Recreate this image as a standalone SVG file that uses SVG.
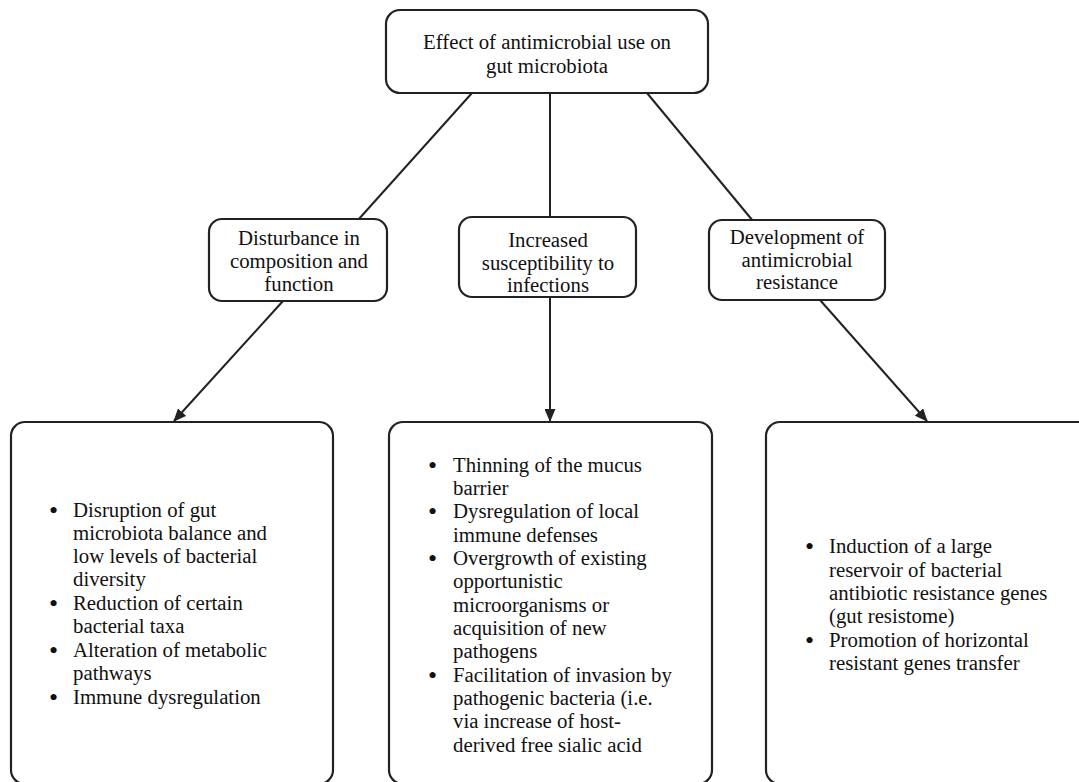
<svg xmlns="http://www.w3.org/2000/svg" width="1079" height="782" viewBox="0 0 1079 782">
<style>
.box{fill:#fff;stroke:#222;stroke-width:2.2}
.t{font-family:"Liberation Serif","Times New Roman",serif;font-size:20.8px;fill:#111}
.b{font-family:"Liberation Serif","Times New Roman",serif;font-size:26px;fill:#111}
.c{text-anchor:middle}
.con{stroke:#222;stroke-width:2;fill:none}
</style>
<defs>
<marker id="ah" markerWidth="13" markerHeight="11" refX="12" refY="5.5" orient="auto" markerUnits="userSpaceOnUse">
<path d="M0,0 L13,5.5 L0,11 Z" fill="#222"/>
</marker>
</defs>
<rect width="1079" height="782" fill="#fff"/>
<g id="connectors">
<line class="con" x1="472" y1="93" x2="358" y2="220"/>
<line class="con" x1="550" y1="93" x2="550" y2="217"/>
<line class="con" x1="647" y1="93" x2="753" y2="221"/>
<line class="con" x1="283" y1="301" x2="174" y2="421" marker-end="url(#ah)"/>
<line class="con" x1="550" y1="297" x2="550" y2="421" marker-end="url(#ah)"/>
<line class="con" x1="820" y1="300" x2="927" y2="421" marker-end="url(#ah)"/>
</g>
<g id="top">
<rect class="box" x="386" y="10" width="322" height="83" rx="14"/>
<text class="t c" x="547" y="49">Effect of antimicrobial use on</text>
<text class="t c" x="547" y="73">gut microbiota</text>
</g>
<g id="disturbance">
<rect class="box" x="209" y="219" width="178" height="82" rx="13"/>
<text class="t c" x="299" y="245">Disturbance in</text>
<text class="t c" x="299" y="268">composition and</text>
<text class="t c" x="299" y="291">function</text>
</g>
<g id="susceptibility">
<rect class="box" x="459" y="217" width="177" height="80" rx="13"/>
<text class="t c" x="548" y="247">Increased</text>
<text class="t c" x="548" y="270">susceptibility to</text>
<text class="t c" x="548" y="292">infections</text>
</g>
<g id="resistance">
<rect class="box" x="709" y="220" width="176" height="80" rx="13"/>
<text class="t c" x="797" y="244">Development of</text>
<text class="t c" x="797" y="267">antimicrobial</text>
<text class="t c" x="797" y="289">resistance</text>
</g>
<g id="list1">
<rect class="box" x="11" y="422" width="322" height="362" rx="14"/>
<g class="b">
<text x="49" y="519">•</text>
<text x="49" y="612">•</text>
<text x="49" y="659">•</text>
<text x="49" y="706">•</text>
</g>
<g class="t">
<text x="73" y="517">Disruption of gut</text>
<text x="73" y="540">microbiota balance and</text>
<text x="73" y="563">low levels of bacterial</text>
<text x="73" y="586">diversity</text>
<text x="73" y="610">Reduction of certain</text>
<text x="73" y="633">bacterial taxa</text>
<text x="73" y="657">Alteration of metabolic</text>
<text x="73" y="680">pathways</text>
<text x="73" y="704">Immune dysregulation</text>
</g>
</g>
<g id="list2">
<rect class="box" x="389" y="422" width="323" height="362" rx="14"/>
<g class="b">
<text x="428" y="474">•</text>
<text x="428" y="520">•</text>
<text x="428" y="567">•</text>
<text x="428" y="684">•</text>
</g>
<g class="t">
<text x="453" y="472">Thinning of the mucus</text>
<text x="453" y="495">barrier</text>
<text x="453" y="518">Dysregulation of local</text>
<text x="453" y="542">immune defenses</text>
<text x="453" y="565">Overgrowth of existing</text>
<text x="453" y="588">opportunistic</text>
<text x="453" y="612">microorganisms or</text>
<text x="453" y="635">acquisition of new</text>
<text x="453" y="658">pathogens</text>
<text x="453" y="682">Facilitation of invasion by</text>
<text x="453" y="705">pathogenic bacteria (i.e.</text>
<text x="453" y="728">via increase of host-</text>
<text x="453" y="752">derived free sialic acid</text>
</g>
</g>
<g id="list3">
<rect class="box" x="766" y="422" width="330" height="362" rx="14"/>
<g class="b">
<text x="805" y="555">•</text>
<text x="805" y="649">•</text>
</g>
<g class="t">
<text x="829" y="553">Induction of a large</text>
<text x="829" y="577">reservoir of bacterial</text>
<text x="829" y="600">antibiotic resistance genes</text>
<text x="829" y="623">(gut resistome)</text>
<text x="829" y="647">Promotion of horizontal</text>
<text x="829" y="670">resistant genes transfer</text>
</g>
</g>
</svg>
